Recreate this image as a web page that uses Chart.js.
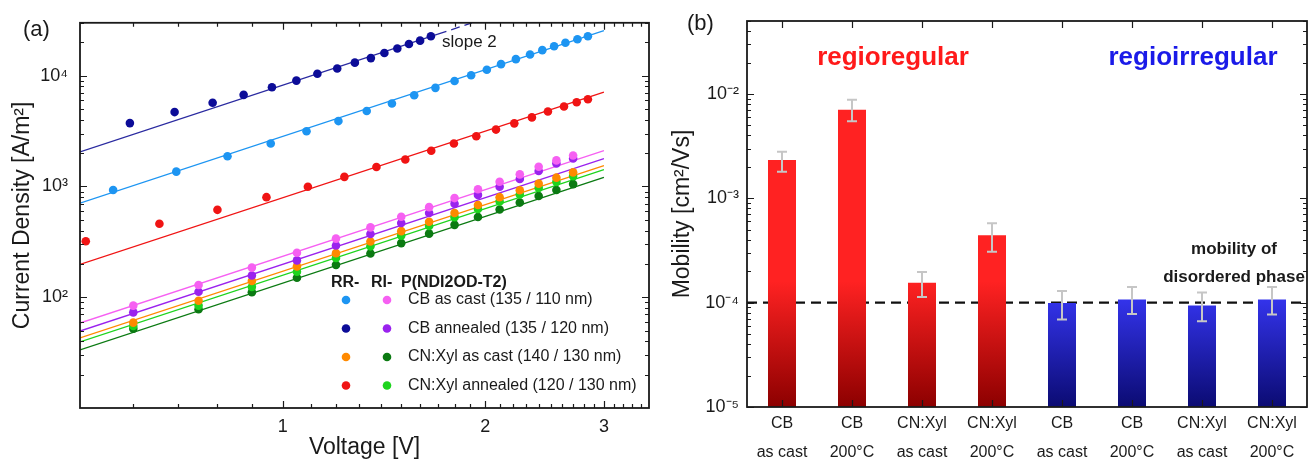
<!DOCTYPE html>
<html>
<head>
<meta charset="utf-8">
<script src="https://cdn.jsdelivr.net/npm/chart.js@4.4.0/dist/chart.umd.min.js"></script>
<style>
  html, body { margin: 0; padding: 0; background: #fff; }
  #wrap { position: relative; width: 1309px; height: 460px; overflow: hidden; }
  #jv { position: absolute; left: 0; top: 0; }
  #mob { position: absolute; left: 660px; top: 0; }
</style>
</head>
<body>
<div id="wrap">
  <canvas id="jv" width="660" height="460"></canvas>
  <canvas id="mob" width="649" height="460"></canvas>
</div>
<script>
// ---------- panel (a): J-V data ----------
var vRrCbCast = [0.56, 0.695, 0.828, 0.96, 1.085, 1.21, 1.333, 1.453, 1.568, 1.686, 1.80, 1.905, 2.01, 2.11, 2.22, 2.33, 2.43, 2.53, 2.63, 2.74, 2.84];
var jRrCbCast = [930, 1360, 1870, 2440, 3150, 3890, 4790, 5610, 6650, 7760, 8960, 10100, 11300, 12700, 14100, 15500, 17000, 18400, 19800, 21300, 22700];

var vRrCbAnn = [0.593, 0.691, 0.787, 0.875, 0.964, 1.048, 1.126, 1.205, 1.28, 1.352, 1.416, 1.48, 1.54, 1.60, 1.66];
var jRrCbAnn = [3730, 4690, 5690, 6710, 7850, 9020, 10400, 11600, 13100, 14400, 16000, 17600, 19300, 20700, 22700];

var vRrXylAnn = [0.51, 0.656, 0.80, 0.946, 1.09, 1.235, 1.378, 1.521, 1.662, 1.796, 1.939, 2.074, 2.208, 2.345, 2.477, 2.617, 2.733, 2.84];
var jRrXylAnn = [320, 461, 615, 800, 995, 1220, 1500, 1750, 2100, 2440, 2840, 3260, 3710, 4200, 4750, 5270, 5760, 6130];

var vLow = [0.6, 0.75, 0.9, 1.05, 1.2, 1.35, 1.5, 1.65, 1.8, 1.95, 2.1, 2.25, 2.4, 2.55, 2.7];
var jRiCbCast = [84, 129, 185, 252, 338, 427, 532, 650, 785, 944, 1104, 1285, 1506, 1718, 1905];
var jRiCbAnn = [73, 112, 157, 215, 293, 372, 468, 575, 697, 839, 995, 1167, 1377, 1614, 1790];
var jRrXylCast = [59, 93, 140, 190, 250, 318, 395, 480, 575, 680, 800, 925, 1060, 1200, 1340];
var jRiXylAnn = [55, 84, 124, 170, 226, 288, 360, 440, 528, 625, 730, 845, 970, 1100, 1240];
var jRiXylCast = [52, 78, 111, 150, 196, 248, 308, 375, 450, 530, 620, 715, 820, 930, 1050];

// slope-2 fit lines, end points
var fitV = [0.5, 3.0];
var fitRrCbCast = [707, 25500];
var fitRrXylAnn = [198, 7100];
var fitRiCbCast = [58.5, 2100];
var fitRiCbAnn = [49.5, 1780];
var fitRrXylCast = [42.9, 1545];
var fitRiXylAnn = [39.5, 1420];
var fitRiXylCast = [33.5, 1205];
var fitAnnV = [0.5, 1.70, 1.91];          // last piece dashed ("slope 2")
var fitRrCbAnn = [2050, 23700, 29900];

var voltageTicks = [1, 2, 3];
var currentTicks = [1e2, 1e3, 1e4];
var legendNames = ['CB as cast (135 / 110 nm)', 'CB annealed (135 / 120 nm)', 'CN:Xyl as cast (140 / 130 nm)', 'CN:Xyl annealed (120 / 130 nm)'];

// ---------- panel (b): mobility ----------
var sampleLabels = [['CB', 'as cast'], ['CB', '200°C'], ['CN:Xyl', 'as cast'], ['CN:Xyl', '200°C'],
                    ['CB', 'as cast'], ['CB', '200°C'], ['CN:Xyl', 'as cast'], ['CN:Xyl', '200°C']];
var regio = ['RR', 'RR', 'RR', 'RR', 'RI', 'RI', 'RI', 'RI'];
var mobility = [2.33e-3, 7.06e-3, 1.55e-4, 4.43e-4, 9.9e-5, 1.07e-4, 9.4e-5, 1.07e-4];
var mobilityHi = [2.8e-3, 8.8e-3, 1.97e-4, 5.75e-4, 1.29e-4, 1.41e-4, 1.25e-4, 1.41e-4];
var mobilityLo = [1.8e-3, 5.46e-3, 1.13e-4, 3.07e-4, 6.9e-5, 7.8e-5, 6.65e-5, 7.7e-5];
var mobilityTicks = [1e-5, 1e-4, 1e-3, 1e-2];
var disorderedMobility = 1e-4;


var FONT = "'Liberation Sans', Arial, sans-serif";
Chart.defaults.font.family = FONT;
Chart.defaults.color = '#1a1a1a';

var C = {
    ltblue: '#1d95f2', navy: '#0c0c98', red: '#f01414', orange: '#ff8a00',
    pink: '#f660f2', purple: '#9a22ee', dkgreen: '#0b7a12', ltgreen: '#1ed41e'
};

var SUP = { '-': '\u207B', '0': '\u2070', '1': '\u00B9', '2': '\u00B2', '3': '\u00B3', '4': '\u2074', '5': '\u2075', '6': '\u2076', '7': '\u2077', '8': '\u2078', '9': '\u2079' };
function pow10Label(v) {
    var e = String(Math.round(Math.log10(v)));
    return '10' + e.split('').map(function (c) { return SUP[c]; }).join('');
}

function logMinors(min, max) {
    var out = [];
    for (var e = Math.floor(Math.log10(min)); e <= Math.ceil(Math.log10(max)); e++) {
        for (var m = 2; m <= 9; m++) {
            var v = m * Math.pow(10, e);
            if (v >= min && v <= max) out.push(v);
        }
    }
    return out;
}

function pts(v, j) {
    return v.map(function (x, i) { return { x: x, y: j[i] }; });
}

// box frame with inward ticks on all four sides
var framePlugin = {
    id: 'frame',
    afterDraw: function (chart, args, o) {
        var a = chart.chartArea, ctx = chart.ctx, sx = chart.scales.x, sy = chart.scales.y;
        ctx.save();
        ctx.strokeStyle = '#1a1a1a';
        ctx.lineWidth = 1.2;
        ctx.beginPath();
        function vtick(v, len) {
            var x = Math.round(sx.getPixelForValue(v)) + 0.5;
            ctx.moveTo(x, a.bottom); ctx.lineTo(x, a.bottom - len);
            ctx.moveTo(x, a.top); ctx.lineTo(x, a.top + len);
        }
        function htick(v, len) {
            var y = Math.round(sy.getPixelForValue(v)) + 0.5;
            ctx.moveTo(a.left, y); ctx.lineTo(a.left + len, y);
            ctx.moveTo(a.right, y); ctx.lineTo(a.right - len, y);
        }
        o.xMajor.forEach(function (v) { vtick(v, 7); });
        o.xMinor.forEach(function (v) { vtick(v, 4); });
        o.yMajor.forEach(function (v) { htick(v, 7); });
        o.yMinor.forEach(function (v) { htick(v, 4); });
        ctx.stroke();
        ctx.lineWidth = 1.8;
        ctx.strokeRect(a.left, a.top, a.right - a.left, a.bottom - a.top);
        ctx.restore();
    }
};

// ---------- panel (a) ----------
var pointSets = [
    { j: jRrCbCast, v: vRrCbCast, c: C.ltblue },
    { j: jRrCbAnn, v: vRrCbAnn, c: C.navy },
    { j: jRrXylAnn, v: vRrXylAnn, c: C.red },
    { j: jRiCbCast, v: vLow, c: C.pink },
    { j: jRiCbAnn, v: vLow, c: C.purple },
    { j: jRrXylCast, v: vLow, c: C.orange },
    { j: jRiXylAnn, v: vLow, c: C.ltgreen },
    { j: jRiXylCast, v: vLow, c: C.dkgreen }
];
var fitSets = [
    { j: fitRrCbCast, c: C.ltblue },
    { j: fitRrXylAnn, c: C.red },
    { j: fitRiCbCast, c: C.pink },
    { j: fitRiCbAnn, c: C.purple },
    { j: fitRrXylCast, c: C.orange },
    { j: fitRiXylAnn, c: C.ltgreen },
    { j: fitRiXylCast, c: C.dkgreen }
];
var legendColors = [[C.ltblue, C.pink], [C.navy, C.purple], [C.orange, C.dkgreen], [C.red, C.ltgreen]];

var jvDatasets = [];
fitSets.forEach(function (f) {
    jvDatasets.push({ type: 'line', data: pts(fitV, f.j), borderColor: f.c, borderWidth: 1.3, pointRadius: 0, order: 2 });
});
jvDatasets.push({
    type: 'line', data: pts(fitAnnV, fitRrCbAnn), borderColor: '#2a2aa0', borderWidth: 1.3, pointRadius: 0, order: 2,
    segment: { borderDash: function (ctx) { return ctx.p0DataIndex === 1 ? [9, 5] : undefined; } }
});
pointSets.forEach(function (p) {
    jvDatasets.push({ data: pts(p.v, p.j), backgroundColor: p.c, borderColor: p.c, pointRadius: 4.3, borderWidth: 0, showLine: false, order: 1 });
});

var jvLegend = {
    id: 'jvLegend',
    afterDraw: function (chart) {
        var ctx = chart.ctx;
        ctx.save();
        ctx.textBaseline = 'middle';
        ctx.fillStyle = '#1a1a1a';
        ctx.font = 'bold 16px ' + FONT;
        ctx.fillText('RR-', 331, 283);
        ctx.fillText('RI-', 371, 283);
        ctx.fillText('P(NDI2OD-T2)', 401, 283);
        ctx.font = '16px ' + FONT;
        legendNames.forEach(function (name, i) {
            var y = 300 + i * 28.5;
            [346, 387].forEach(function (x, k) {
                ctx.beginPath();
                ctx.fillStyle = legendColors[i][k];
                ctx.arc(x, y, 4.3, 0, Math.PI * 2);
                ctx.fill();
            });
            ctx.fillStyle = '#1a1a1a';
            ctx.fillText(name, 408, y);
        });
        ctx.font = '17px ' + FONT;
        ctx.fillText('slope 2', 442, 42);
        ctx.font = '22px ' + FONT;
        ctx.fillText('(a)', 23, 30);
        ctx.restore();
    }
};

var xMinorA = [0.6, 0.7, 0.8, 0.9, 1.1, 1.2, 1.3, 1.4, 1.5, 1.6, 1.7, 1.8, 1.9,
               2.1, 2.2, 2.3, 2.4, 2.5, 2.6, 2.7, 2.8, 2.9, 3.1, 3.2, 3.3, 3.4];

new Chart(document.getElementById('jv'), {
    type: 'scatter',
    data: { datasets: jvDatasets },
    options: {
        responsive: false,
        animation: false,
        devicePixelRatio: 1,
        layout: { padding: { left: 0, top: 22, right: 11, bottom: 0 } },
        plugins: {
            legend: { display: false },
            tooltip: { enabled: false },
            frame: { xMajor: voltageTicks, xMinor: xMinorA, yMajor: currentTicks, yMinor: logMinors(10, 30000) }
        },
        scales: {
            x: {
                type: 'logarithmic', min: 0.5, max: 3.5,
                grid: { display: false, drawTicks: false }, border: { display: false },
                afterBuildTicks: function (s) { s.ticks = voltageTicks.map(function (v) { return { value: v }; }); },
                afterFit: function (s) { s.height = 52; },
                ticks: { font: { size: 18 }, padding: 8, maxRotation: 0, autoSkip: false,
                         callback: function (v) { return String(v); } },
                title: { display: true, text: 'Voltage [V]', font: { size: 23, lineHeight: 1 }, padding: { top: 0, bottom: 1 } }
            },
            y: {
                type: 'logarithmic', min: 10, max: 30000,
                grid: { display: false, drawTicks: false }, border: { display: false },
                afterBuildTicks: function (s) { s.ticks = currentTicks.map(function (v) { return { value: v }; }); },
                afterFit: function (s) { s.width = 80; },
                ticks: { font: { size: 18 }, padding: 12, callback: function (v) { return pow10Label(v); } },
                title: { display: true, text: 'Current Density [A/m\u00B2]', font: { size: 23, lineHeight: 1 }, padding: { top: 11, bottom: 0 } }
            }
        }
    },
    plugins: [framePlugin, jvLegend]
});

// ---------- panel (b) ----------
function barFill(c) {
    var chart = c.chart, a = chart.chartArea;
    var rr = regio[c.dataIndex] === 'RR';
    if (!a || !chart.scales.y) return rr ? '#e01818' : '#2020e0';
    var top = chart.scales.y.getPixelForValue(1.6e-4);
    var g = chart.ctx.createLinearGradient(0, top, 0, a.bottom);
    if (rr) { g.addColorStop(0, '#ff2222'); g.addColorStop(1, '#8c0000'); }
    else { g.addColorStop(0, '#3a3aff'); g.addColorStop(1, '#0b0b72'); }
    return g;
}

var mobExtras = {
    id: 'mobExtras',
    beforeDatasetsDraw: function (chart) {
        var ctx = chart.ctx, a = chart.chartArea;
        var y = chart.scales.y.getPixelForValue(disorderedMobility);
        ctx.save();
        ctx.strokeStyle = '#111';
        ctx.lineWidth = 2.4;
        ctx.setLineDash([10, 6]);
        ctx.beginPath();
        ctx.moveTo(a.left, y);
        ctx.lineTo(a.right, y);
        ctx.stroke();
        ctx.restore();
    },
    afterDatasetsDraw: function (chart) {
        var ctx = chart.ctx, sy = chart.scales.y;
        ctx.save();
        ctx.strokeStyle = '#c6c6c6';
        ctx.lineWidth = 2;
        ctx.beginPath();
        chart.getDatasetMeta(0).data.forEach(function (bar, i) {
            var x = Math.round(bar.x);
            var y1 = sy.getPixelForValue(mobilityHi[i]), y2 = sy.getPixelForValue(mobilityLo[i]);
            ctx.moveTo(x, y1); ctx.lineTo(x, y2);
            ctx.moveTo(x - 5, y1); ctx.lineTo(x + 5, y1);
            ctx.moveTo(x - 5, y2); ctx.lineTo(x + 5, y2);
        });
        ctx.stroke();
        ctx.restore();
    },
    afterDraw: function (chart) {
        var ctx = chart.ctx;
        ctx.save();
        ctx.textAlign = 'center';
        ctx.textBaseline = 'middle';
        ctx.font = 'bold 26px ' + FONT;
        ctx.fillStyle = '#ff1a1a';
        ctx.fillText('regioregular', 233, 58);
        ctx.fillStyle = '#1a1ae8';
        ctx.fillText('regioirregular', 533, 58);
        ctx.fillStyle = '#1a1a1a';
        ctx.font = 'bold 17px ' + FONT;
        ctx.fillText('mobility of', 574, 249);
        ctx.fillText('disordered phase', 574, 277);
        ctx.textAlign = 'left';
        ctx.font = '22px ' + FONT;
        ctx.fillText('(b)', 27, 24);
        ctx.restore();
    }
};

new Chart(document.getElementById('mob'), {
    type: 'bar',
    data: {
        labels: sampleLabels,
        datasets: [{ data: mobility, backgroundColor: barFill, borderWidth: 0, barPercentage: 0.4, categoryPercentage: 1 }]
    },
    options: {
        responsive: false,
        animation: false,
        devicePixelRatio: 1,
        layout: { padding: { left: 0, top: 21, right: 2, bottom: 0 } },
        plugins: {
            legend: { display: false },
            tooltip: { enabled: false },
            frame: { xMajor: [0, 1, 2, 3, 4, 5, 6, 7], xMinor: [], yMajor: mobilityTicks, yMinor: logMinors(1e-5, 0.05) }
        },
        scales: {
            x: {
                grid: { display: false, drawTicks: false }, border: { display: false },
                afterFit: function (s) { s.height = 53; },
                ticks: { font: { size: 16, lineHeight: 1.8 }, padding: 2, maxRotation: 0, autoSkip: false }
            },
            y: {
                type: 'logarithmic', min: 1e-5, max: 0.05,
                grid: { display: false, drawTicks: false }, border: { display: false },
                afterBuildTicks: function (s) { s.ticks = mobilityTicks.map(function (v) { return { value: v }; }); },
                afterFit: function (s) { s.width = 87; },
                ticks: { font: { size: 18 }, padding: 8, callback: function (v) { return pow10Label(v); } },
                title: { display: true, text: 'Mobility [cm\u00B2/Vs]', font: { size: 23, lineHeight: 1 }, padding: { top: 11, bottom: 0 } }
            }
        }
    },
    plugins: [framePlugin, mobExtras]
});
</script>
</body>
</html>
